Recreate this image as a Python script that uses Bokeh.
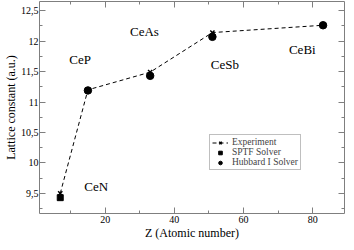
from bokeh.plotting import figure
from bokeh.models import (FixedTicker, LinearAxis, Range1d, Legend, LegendItem,
                          ColumnDataSource, LabelSet, CustomLabelingPolicy)
from bokeh.core.properties import value
from bokeh.embed import file_html
from bokeh.resources import INLINE

# ---- data ----
exp_z = [7, 15, 33, 51, 83]
exp_a = [9.50, 11.20, 11.49, 12.14, 12.26]
sptf_z = [7]
sptf_a = [9.43]
hub_z = [15, 33, 51, 83]
hub_a = [11.19, 11.43, 12.07, 12.26]
compounds = ["CeN", "CeP", "CeAs", "CeSb", "CeBi"]
label_z = [17.4, 12.75, 31.35, 54.6, 77.0]
label_a = [9.61, 11.70, 12.15, 11.62, 11.86]
y_ticks = [9.5, 10, 10.5, 11, 11.5, 12, 12.5]
y_tick_labels = ["9,5", "10", "10,5", "11", "11,5", "12", "12,5"]
y_minor = [9.25, 9.5, 9.75, 10, 10.25, 10.5, 10.75, 11, 11.25, 11.5, 11.75, 12, 12.25, 12.5]
x_ticks = [20, 40, 60, 80]
x_minor = [10, 20, 30, 40, 50, 60, 70, 80]
x_title = "Z (Atomic number)"
y_title = "Lattice constant (a.u.)"

FONT = "Liberation Serif"
GRAY = "#7f7f7f"

p = figure(width=346, height=242, output_backend="svg", toolbar_location=None,
           x_range=Range1d(1.0, 89.2), y_range=Range1d(9.17, 12.65),
           min_border_left=36, min_border_right=2, min_border_top=1, min_border_bottom=26,
           x_axis_label=x_title, y_axis_label=y_title)
p.grid.visible = False
p.outline_line_color = GRAY
p.outline_line_width = 1
p.background_fill_color = "white"
p.border_fill_color = "white"

hide = CustomLabelingPolicy(code="for (const i of [...indices.ones()]) indices.unset(i); return indices")

def style_axis(ax, ticks, minor, labels=None, show=True):
    ax.ticker = FixedTicker(ticks=ticks, minor_ticks=minor)
    ax.axis_line_color = None
    ax.major_tick_in = 6
    ax.major_tick_out = 0
    ax.minor_tick_in = 3
    ax.minor_tick_out = 0
    ax.major_tick_line_color = GRAY
    ax.minor_tick_line_color = GRAY
    ax.major_label_text_font = FONT
    ax.major_label_text_color = "black"
    if show:
        ax.major_label_text_font_size = "10px"
        ax.major_label_standoff = 2
        ax.axis_label_text_font = FONT
        ax.axis_label_text_font_size = "12px"
        ax.axis_label_text_font_style = "normal"
        ax.axis_label_text_color = "black"
        ax.axis_label_standoff = 0
        if labels is not None:
            ax.major_label_overrides = labels
    else:
        ax.major_label_text_font_size = "1px"
        ax.major_label_overrides = {t: "" for t in ticks}
        ax.major_label_policy = hide
        ax.major_label_standoff = 0

style_axis(p.xaxis[0], x_ticks, x_minor)
style_axis(p.yaxis[0], y_ticks, y_minor, labels=dict(zip(y_ticks, y_tick_labels)))
p.yaxis[0].major_label_standoff = 1

top = LinearAxis()
style_axis(top, x_ticks, x_minor, show=False)
p.add_layout(top, "above")
right = LinearAxis()
style_axis(right, y_ticks, y_minor, show=False)
p.add_layout(right, "right")

exp_line = p.line(exp_z, exp_a, line_color="black", line_width=1, line_dash="4 3")
exp_pts = p.scatter(exp_z, exp_a, marker="x", size=6, line_color="black", line_width=1.5)
sptf = p.scatter(sptf_z, sptf_a, marker="square", size=6, fill_color="black", line_color="black")
hub = p.scatter(hub_z, hub_a, marker="circle", size=7.5, fill_color="black", line_color="black")

src = ColumnDataSource(dict(x=label_z, y=label_a, t=compounds))
p.add_layout(LabelSet(x="x", y="y", text="t", source=src, text_font=value(FONT),
                      text_font_size="13px", text_align="center", text_baseline="middle",
                      text_color="black"))

legend = Legend(items=[LegendItem(label="Experiment", renderers=[exp_line, exp_pts]),
                       LegendItem(label="SPTF Solver", renderers=[sptf]),
                       LegendItem(label="Hubbard I Solver", renderers=[hub])],
                location=(170, 43))
legend.label_text_font = FONT
legend.label_text_font_size = "9.5px"
legend.label_height = 9
legend.glyph_height = 9
legend.glyph_width = 16
legend.label_standoff = 4
legend.spacing = 0
legend.padding = 2
legend.margin = 0
legend.border_line_color = GRAY
legend.border_line_width = 1
legend.background_fill_alpha = 1
p.add_layout(legend, "center")

open("out.html", "w").write(file_html(p, INLINE))
